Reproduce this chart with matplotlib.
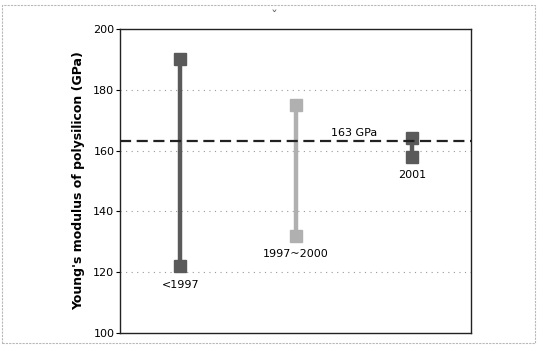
import matplotlib
matplotlib.use('Agg')
import matplotlib.pyplot as plt
from matplotlib.patches import Rectangle

# Reported ranges of polysilicon Young's modulus by period
periods = ['<1997', '1997~2000', '2001']
low_values = [122, 132, 158]
high_values = [190, 175, 164]
bar_colors = ['#5a5a5a', '#b0b0b0', '#5a5a5a']
mean_value = 163

fig = plt.figure(figsize=(5.38, 3.47), dpi=100)
ax = fig.add_axes([120 / 538, 14 / 347, 351 / 538, 304 / 347])

ax.set_ylim(100, 200)
ax.set_xlim(0.48, 3.51)

# Dotted horizontal grid
for y in [120, 140, 160, 180]:
    ax.axhline(y, color='#9a9a9a', linestyle=(0, (1, 4)), linewidth=0.8, zorder=1)

# Range bars with square end markers
for i, (lo, hi, c) in enumerate(zip(low_values, high_values, bar_colors)):
    x = i + 1
    ax.plot([x, x], [lo, hi], color=c, linewidth=3.2, zorder=3, solid_capstyle='butt')
    ax.plot([x, x], [lo, hi], linestyle='none', marker='s', markersize=8,
            color=c, markeredgecolor=c, zorder=4)

# Average value
ax.axhline(mean_value, color='#222222', linestyle=(0, (5, 2.5)), linewidth=1.6, zorder=5)
ax.text(2.3, mean_value + 1.2, '%d GPa' % mean_value, fontsize=8, ha='left', va='bottom')

# Period labels
for i, (lo, name) in enumerate(zip(low_values, periods)):
    ax.text(i + 1, lo - 4.5, name, fontsize=8, ha='center', va='top')

ax.set_yticks([100, 120, 140, 160, 180, 200])
ax.set_xticks([])
ax.tick_params(axis='y', direction='out', length=3, width=0.8, labelsize=8, pad=1)
for s in ax.spines.values():
    s.set_linewidth(1.0)
    s.set_color('#222222')
ax.set_ylabel("Young's modulus of polysilicon (GPa)", fontsize=9, fontweight='bold', labelpad=6)

# Outer light border
fig.patches.append(Rectangle((2 / 538, 4 / 347), 533 / 538, 338 / 347, transform=fig.transFigure,
                             fill=False, edgecolor='#b8b8b8', linewidth=0.8, linestyle=(0, (2, 1))))
fig.text(274 / 538, 1 - 17 / 347, 'ˇ', fontsize=10, color='#666666', ha='center', va='center')

fig.savefig('out.png', dpi=100)
